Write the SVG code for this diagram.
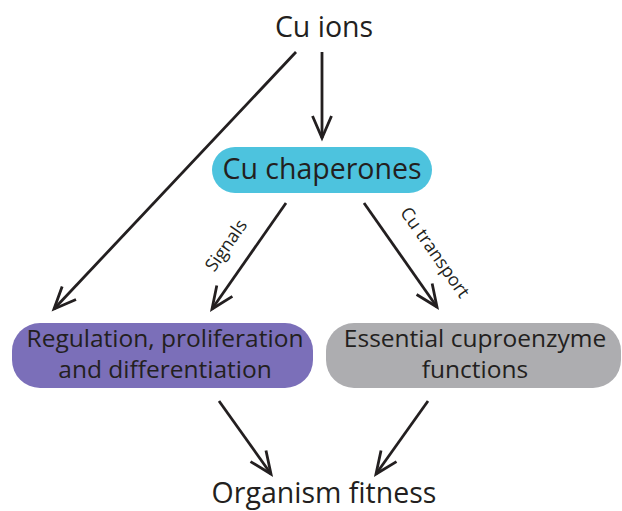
<svg xmlns="http://www.w3.org/2000/svg" width="622" height="511" viewBox="0 0 622 511">
<defs>
<marker id="ah" markerUnits="userSpaceOnUse" markerWidth="30" markerHeight="30" viewBox="-25 -15 30 30" refX="0" refY="0" orient="auto" overflow="visible">
<path d="M-22,-9.5 L0,0 L-22,9.5" fill="none" stroke="#231f20" stroke-width="2.8" stroke-linejoin="miter" stroke-miterlimit="10"/>
</marker>
<style>
text{font-family:"Open Sans","Noto Sans","Liberation Sans",sans-serif;fill:#231f20;}
.big{font-size:28.5px;}
.box{font-size:24.5px;}
.lbl{font-size:18px;}
.conn line{stroke:#231f20;stroke-width:2.8;fill:none;marker-end:url(#ah);}
</style>
</defs>
<rect width="622" height="511" fill="#ffffff"/>
<g id="connectors" class="conn">
<line x1="322" y1="52" x2="322" y2="138"/>
<line x1="296" y1="52" x2="54" y2="309"/>
<line x1="286" y1="203" x2="212" y2="309"/>
<line x1="364" y1="203" x2="437" y2="307"/>
<line x1="219" y1="401" x2="271" y2="474"/>
<line x1="428" y1="401" x2="376" y2="474"/>
</g>
<g id="label-signals"><text class="lbl" text-anchor="middle" transform="translate(227,246) rotate(-55)" x="0" y="5">Signals</text></g>
<g id="label-transport"><text class="lbl" text-anchor="middle" transform="translate(434,253) rotate(55)" x="0" y="5">Cu transport</text></g>
<g id="cu-ions"><text class="big" x="324" y="37" text-anchor="middle">Cu ions</text></g>
<g id="cu-chaperones">
<rect x="212" y="147" width="220" height="46" rx="23" fill="#4dc3de"/>
<text class="big" x="322" y="179" text-anchor="middle">Cu chaperones</text>
</g>
<g id="regulation">
<rect x="12" y="323" width="301" height="65" rx="28" fill="#7b6fb9"/>
<text class="box" x="165" y="347" text-anchor="middle">Regulation, proliferation</text>
<text class="box" x="165" y="378" text-anchor="middle">and differentiation</text>
</g>
<g id="cuproenzyme">
<rect x="326" y="323" width="295" height="65" rx="28" fill="#adadb0"/>
<text class="box" x="475" y="347" text-anchor="middle">Essential cuproenzyme</text>
<text class="box" x="475" y="378" text-anchor="middle">functions</text>
</g>
<g id="fitness"><text class="big" x="324" y="503" text-anchor="middle">Organism fitness</text></g>
</svg>
